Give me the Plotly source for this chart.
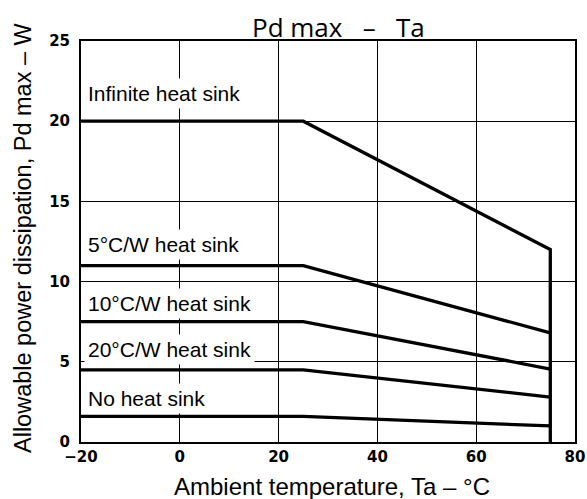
import plotly.graph_objects as go

# Data
x_knee = [-20, 25, 75]
infinite_x = [-20, 25, 75, 75]
infinite_y = [20, 20, 12, 0]
hs5_y = [11, 11, 6.8]
hs10_y = [7.5, 7.5, 4.55]
hs20_y = [4.5, 4.5, 2.8]
none_y = [1.6, 1.6, 1.0]

labels = ["Infinite heat sink", "5°C/W heat sink", "10°C/W heat sink",
          "20°C/W heat sink", "No heat sink"]
label_y = [21.7, 12.32, 8.62, 5.77, 2.7]

xticks = [-20, 0, 20, 40, 60, 80]
yticks = [0, 5, 10, 15, 20, 25]

fig = go.Figure()
line = dict(color="black", width=3.3)
fig.add_trace(go.Scatter(x=infinite_x, y=infinite_y, mode="lines", line=line, showlegend=False))
for ys in [hs5_y, hs10_y, hs20_y, none_y]:
    fig.add_trace(go.Scatter(x=x_knee, y=ys, mode="lines", line=line, showlegend=False))

for t, yv in zip(labels, label_y):
    fig.add_annotation(x=-19.4, y=yv, xref="x", yref="y", text=t, showarrow=False,
                       xanchor="left", yanchor="middle", bgcolor="white", borderpad=3,
                       font=dict(family="Liberation Sans, Arial", size=21, color="black"))

fig.add_annotation(x=(338 - 81) / 494, y=(442 - 27) / 401, xref="paper", yref="paper",
                   text="Pd max\u00a0\u00a0\u00a0–\u00a0\u00a0\u00a0Ta", showarrow=False,
                   xanchor="center", yanchor="middle",
                   font=dict(family="Open Sans", size=26, color="black"))
fig.add_annotation(x=(23 - 81) / 494, y=(442 - 238) / 401, xref="paper", yref="paper",
                   text="Allowable power dissipation, Pd max – W", showarrow=False,
                   textangle=-90, xanchor="center", yanchor="middle",
                   font=dict(family="Liberation Sans, Arial", size=23.5, color="black"))
fig.add_annotation(x=(332 - 81) / 494, y=(442 - 486) / 401, xref="paper", yref="paper",
                   text="Ambient temperature, Ta – °C", showarrow=False,
                   xanchor="center", yanchor="middle",
                   font=dict(family="Liberation Sans, Arial", size=24, color="black"))

axis_common = dict(showline=True, linecolor="black", linewidth=2, mirror=True,
                   showgrid=True, gridcolor="black", gridwidth=1, zeroline=False,
                   automargin=False, ticks="",
                   tickfont=dict(family="DejaVu Sans", size=15, color="black", weight="bold"))
fig.update_xaxes(range=[-20, 80], tickvals=xticks, **axis_common)
fig.update_yaxes(range=[0, 25], tickvals=yticks, ticklabelstandoff=6, **axis_common)

fig.update_layout(width=587, height=499, margin=dict(l=81, r=12, t=41, b=57),
                  plot_bgcolor="white", paper_bgcolor="white", hovermode=False)

fig.write_html("out.html", config={"displayModeBar": False},
               post_script="document.body.style.margin='0';document.body.style.overflow='hidden';")
